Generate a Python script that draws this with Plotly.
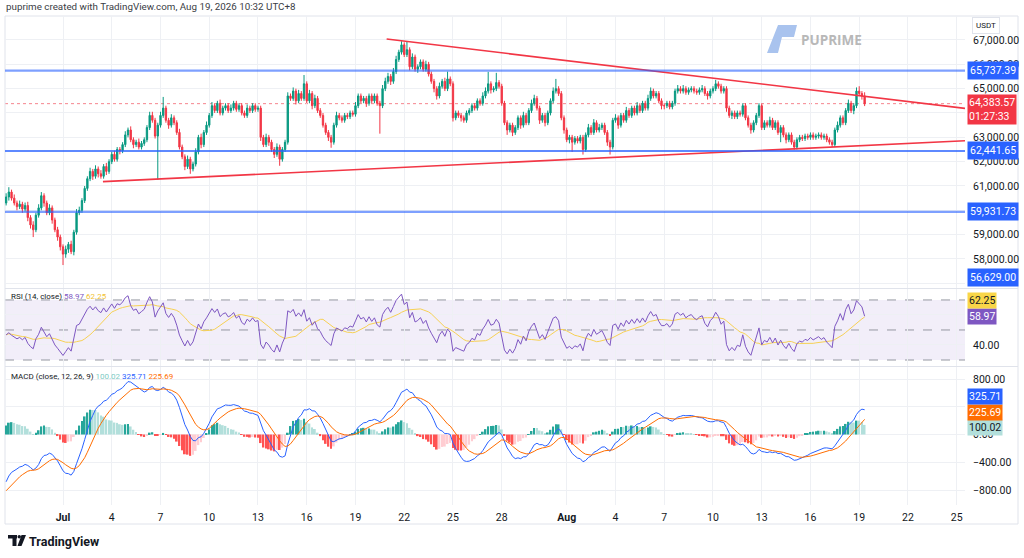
import numpy as np
import pandas as pd
import plotly.graph_objects as go

W, H = 1024, 558

# 4h candles, first one opens Jun 27 12:00 (UTC+8)
START = '2026-06-27 12:00'
FIRST_OPEN = 60300
CLOSES = [
    60550, 60750, 60500,                              # Jun 27
    60300, 60150, 60250, 60050, 60200, 59700,         # Jun 28
    59400, 59200, 59800, 60100, 60600, 60300,         # Jun 29
    59900, 60100, 59600, 59200, 58900, 58500,         # Jun 30
    58200, 58400, 58600, 58300, 59100, 59900,         # Jul 1
    60000, 60400, 60900, 61300, 61600, 61400,         # Jul 2
    61700, 61500, 61400, 61800, 61600, 62000,         # Jul 3
    62300, 62100, 62500, 62450, 62700, 63100,         # Jul 4
    63300, 62900, 62700, 62800, 62600, 62750,         # Jul 5
    62900, 63400, 63900, 63700, 63050, 63500,         # Jul 6
    63900, 64200, 63700, 63500, 63800, 63600,         # Jul 7
    63200, 62600, 62200, 61800, 62100, 61700,         # Jul 8
    61900, 62400, 63000, 62700, 63200, 63500,         # Jul 9
    63900, 64300, 64100, 64400, 64000, 64200,         # Jul 10
    64300, 64100, 64200, 64400, 64150, 64300,         # Jul 11
    64000, 63900, 64200, 64100, 64300, 64150,         # Jul 12
    64200, 63000, 62700, 63000, 62800, 62500,         # Jul 13
    62300, 62600, 62100, 62500, 62800, 64700,         # Jul 14
    64600, 64900, 64500, 64800, 64600, 65200,         # Jul 15
    64500, 64800, 64300, 64600, 64100, 63900,         # Jul 16
    63500, 63200, 63000, 62800, 63500, 63900,         # Jul 17
    63800, 63700, 63900, 63850, 64000, 63950,         # Jul 18
    64300, 64700, 64500, 64600, 64400, 64700,         # Jul 19
    64500, 64700, 64400, 64300, 65000, 65300,         # Jul 20
    65500, 65300, 65700, 66200, 66500, 66800,         # Jul 21
    66400, 66600, 65900, 66300, 65800, 65900,         # Jul 22
    66100, 65800, 66000, 65600, 65300, 65000,         # Jul 23
    64700, 65100, 65300, 65000, 65400, 65200,         # Jul 24
    63800, 64000, 63900, 63800, 63700, 64000,         # Jul 25
    64100, 64300, 64200, 64500, 64400, 64700,         # Jul 26
    64900, 65200, 64950, 65000, 65250, 65100,         # Jul 27
    64400, 63600, 63300, 63500, 63200, 63400,         # Jul 28
    63800, 63500, 63900, 63600, 64100, 64400,         # Jul 29
    64600, 64200, 63700, 63900, 63600, 64000,         # Jul 30
    64500, 64900, 65000, 64800, 63800, 63300,         # Jul 31
    62900, 63000, 62800, 62950, 62850, 63000,         # Aug 1
    62500, 63100, 63400, 63200, 63600, 63300,         # Aug 2
    63400, 63500, 63200, 62800, 62600, 63700,         # Aug 3
    63800, 63500, 63900, 63700, 64100, 63900,         # Aug 4
    64200, 64000, 64300, 64100, 64400, 64200,         # Aug 5
    64600, 64900, 64700, 64800, 64500, 64300,         # Aug 6
    64300, 64400, 64250, 64400, 64900, 65000,         # Aug 7
    64900, 65000, 64850, 64950, 65000, 64900,         # Aug 8
    64850, 64950, 65000, 64800, 64700, 64900,         # Aug 9
    65000, 65200, 65100, 64900, 65000, 64200,         # Aug 10
    63900, 64000, 63850, 64000, 63950, 64300,         # Aug 11
    63800, 63500, 63300, 63600, 63900, 64300,         # Aug 12
    63400, 63600, 63500, 63700, 63400, 63600,         # Aug 13
    63200, 63400, 63100, 62900, 63100, 62800,         # Aug 14
    62600, 62900, 63000, 62950, 63050, 63000,         # Aug 15
    63100, 63000, 63050, 63100, 63000, 63050,         # Aug 16
    62900, 62800, 62700, 63300, 63500, 63800,         # Aug 17
    63600, 64100, 64400, 64100, 64300, 64900,         # Aug 18
    64800, 64700, 64383.57,                           # Aug 19
]
# wick length above max(open, close) and below min(open, close)
UPPER_WICKS = [
    150, 200, 100,
    150, 100, 150, 100, 120, 150,
    100, 150, 100, 150, 150, 100,
    100, 150, 100, 100, 120, 100,
    100, 150, 100, 150, 100, 150,
    150, 100, 100, 100, 150, 100,
    150, 100, 150, 100, 150, 100,
    100, 150, 100, 100, 100, 150,
    100, 150, 100, 100, 150, 100,
    100, 100, 150, 150, 100, 100,
    150, 460, 100, 100, 150, 100,
    100, 150, 100, 100, 150, 100,
    100, 150, 100, 150, 100, 150,
    100, 150, 100, 100, 150, 100,
    100, 100, 150, 100, 100, 100,
    100, 100, 150, 100, 100, 100,
    100, 100, 100, 150, 100, 100,
    100, 150, 100, 100, 100, 150,
    100, 150, 100, 150, 100, 360,
    100, 150, 100, 150, 100, 100,
    100, 100, 100, 100, 100, 150,
    100, 100, 100, 100, 100, 100,
    150, 100, 100, 100, 100, 100,
    100, 100, 100, 100, 150, 150,
    150, 100, 150, 150, 100, 150,
    100, 320, 100, 150, 100, 100,
    100, 100, 150, 100, 100, 100,
    100, 150, 100, 150, 300, 100,
    100, 100, 100, 100, 100, 100,
    100, 100, 100, 100, 100, 150,
    150, 490, 100, 100, 400, 100,
    100, 100, 100, 100, 100, 100,
    100, 100, 150, 100, 100, 150,
    150, 100, 100, 100, 100, 100,
    100, 150, 400, 100, 100, 100,
    100, 100, 100, 100, 100, 100,
    100, 100, 150, 100, 150, 100,
    150, 100, 100, 100, 100, 100,
    150, 100, 100, 100, 150, 100,
    100, 100, 150, 100, 100, 100,
    150, 150, 100, 100, 100, 100,
    100, 100, 100, 100, 100, 150,
    100, 150, 100, 100, 100, 100,
    100, 100, 150, 100, 100, 100,
    100, 160, 100, 100, 100, 100,
    100, 100, 100, 100, 100, 100,
    100, 100, 100, 100, 100, 100,
    100, 100, 100, 150, 100, 100,
    100, 100, 100, 100, 100, 100,
    100, 100, 100, 100, 100, 100,
    100, 100, 100, 100, 100, 100,
    100, 100, 100, 100, 150, 100,
    100, 100, 150, 100, 100, 150,
    200, 100, 150,
]
LOWER_WICKS = [
    100, 150, 100,
    100, 150, 100, 150, 100, 150,
    150, 300, 100, 100, 100, 150,
    100, 100, 150, 100, 150, 150,
    450, 150, 150, 100, 150, 100,
    100, 100, 100, 100, 100, 150,
    100, 150, 100, 100, 150, 100,
    100, 100, 100, 150, 100, 100,
    100, 100, 150, 100, 100, 100,
    100, 100, 100, 100, 100, 1790,
    100, 100, 100, 150, 100, 100,
    100, 100, 100, 150, 100, 200,
    100, 100, 100, 150, 100, 100,
    100, 100, 100, 100, 100, 100,
    100, 100, 100, 100, 100, 100,
    100, 100, 100, 100, 100, 100,
    100, 150, 100, 100, 150, 100,
    150, 100, 270, 100, 100, 100,
    100, 100, 150, 100, 100, 100,
    100, 100, 150, 100, 100, 100,
    100, 100, 150, 230, 100, 100,
    100, 100, 100, 100, 100, 100,
    100, 100, 100, 100, 150, 100,
    100, 100, 100, 1150, 100, 100,
    100, 150, 100, 100, 100, 100,
    100, 100, 150, 100, 100, 150,
    100, 100, 100, 100, 100, 150,
    150, 100, 100, 100, 100, 100,
    150, 100, 100, 150, 100, 100,
    100, 100, 100, 100, 100, 100,
    100, 100, 150, 100, 100, 100,
    100, 100, 200, 100, 150, 100,
    100, 150, 100, 100, 100, 100,
    100, 100, 150, 100, 150, 100,
    100, 100, 100, 100, 100, 150,
    100, 150, 400, 100, 100, 100,
    210, 100, 100, 100, 100, 100,
    100, 100, 100, 150, 310, 100,
    100, 150, 100, 100, 100, 100,
    100, 100, 100, 100, 100, 100,
    100, 100, 100, 100, 100, 150,
    150, 100, 100, 100, 100, 100,
    100, 100, 100, 100, 100, 100,
    100, 100, 100, 100, 150, 100,
    100, 100, 100, 100, 100, 150,
    100, 150, 100, 100, 100, 100,
    100, 100, 150, 100, 100, 100,
    100, 100, 100, 100, 100, 100,
    100, 400, 100, 150, 100, 100,
    110, 100, 100, 100, 100, 100,
    100, 100, 100, 100, 100, 100,
    100, 100, 100, 100, 100, 100,
    100, 100, 100, 100, 150, 100,
    100, 150, 100,
]

# indicator states at the left edge of the picture (history before the window)
RSI_START = 45.0
MACD_START = -757.0
SIGNAL_START = -843.0

LEVELS = [65737.39, 62441.65, 59931.73, 56629.00]
DESC_TREND_TIMES = ['2026-07-20 22:00', '2026-08-25 12:15']
DESC_TREND_PRICES = [67040, 64190]
ASC_TREND_TIMES = ['2026-07-03 11:00', '2026-08-25 12:15']
ASC_TREND_PRICES = [61180, 62860]

LAST_PRICE = 64383.57
COUNTDOWN = '01:27:33'
RSI_LAST, RSI_MA_LAST = 58.97, 62.25
MACD_LAST, SIGNAL_LAST, HIST_LAST = 325.71, 225.69, 100.02

TICK_DATES = ['2026-07-01', '2026-07-04', '2026-07-07', '2026-07-10', '2026-07-13',
              '2026-07-16', '2026-07-19', '2026-07-22', '2026-07-25', '2026-07-28',
              '2026-08-01', '2026-08-04', '2026-08-07', '2026-08-10', '2026-08-13',
              '2026-08-16', '2026-08-19', '2026-08-22', '2026-08-25']
TICK_TEXT = ['<b>Jul</b>', '4', '7', '10', '13', '16', '19', '22', '25', '28',
             '<b>Aug</b>', '4', '7', '10', '13', '16', '19', '22', '25']
# gridline values; labels hidden under the price tags are left blank
PRICE_TICKS = [57000, 58000, 59000, 60000, 61000, 62000, 63000, 64000, 65000, 66000, 67000]
PRICE_TICK_TEXT = ['', '58,000.00', '59,000.00', '', '61,000.00', '62,000.00', '63,000.00',
                   '', '65,000.00', '66,000.00', '67,000.00']
RSI_TICKS = [40, 60]
RSI_TICK_TEXT = ['40.00', '']
MACD_TICKS = [-800, -400, 0, 400, 800]
MACD_TICK_TEXT = ['\u2212800.00', '\u2212400.00', '0.00', '', '800.00']

UP, DOWN = '#089981', '#f23645'
BLUE = '#2962ff'
GRID = '#eef0f4'
TEXT = '#131722'
FONT = 'Roboto'
AXIS_SIZE = 10.5
TAG_STEP = 15.5   # vertical pixels between stacked indicator tags

PRICE_PX = 1 / 41.1   # pixels per price unit
RSI_PX = 1.5          # pixels per RSI point
MACD_PX = 1 / 14.414  # pixels per MACD unit


def px_x(p):
    return p / W


def px_y(p):
    return 1 - p / H


def smooth(values, alpha, seed):
    out = []
    prev = seed
    for v in values:
        prev = prev + alpha * (v - prev)
        out.append(prev)
    return np.array(out)


# --- derived series -------------------------------------------------------
times = pd.date_range(START, periods=len(CLOSES), freq='4h')
close = np.array(CLOSES, dtype=float)
opens = np.array([FIRST_OPEN] + CLOSES[:-1], dtype=float)
highs = np.maximum(opens, close) + np.array(UPPER_WICKS)
lows = np.minimum(opens, close) - np.array(LOWER_WICKS)

delta = close - opens
avg_move = np.abs(delta).mean()
loss_seed = avg_move * 2 * (100 - RSI_START) / 100
gain_seed = avg_move * 2 * RSI_START / 100
gain = smooth(np.clip(delta, 0, None), 1 / 14, gain_seed)
loss = smooth(np.clip(-delta, 0, None), 1 / 14, loss_seed)
rsi = pd.Series(100 - 100 / (1 + gain / loss))
rsi_ma = rsi.rolling(14, min_periods=1).mean()

ema12 = smooth(close, 2 / 13, FIRST_OPEN)
ema26 = smooth(close, 2 / 27, FIRST_OPEN - MACD_START)
macd = ema12 - ema26
signal = smooth(macd, 2 / 10, SIGNAL_START)
hist = macd - signal
hist_colors = []
prev = hist[0]
for h in hist:
    if h >= 0:
        hist_colors.append('#26a69a' if h >= prev else '#b2dfdb')
    else:
        hist_colors.append('#ff5252' if h <= prev else '#ffcdd2')
    prev = h

# --- layout geometry (pixels of the 1024x558 page) -------------------------
X_DOMAIN = [px_x(5), px_x(965)]
X_RANGE = ['2026-06-27 10:20', '2026-08-25 12:15']
PRICE_DOMAIN = [px_y(288), px_y(16)]
RSI_DOMAIN = [px_y(366), px_y(289)]
MACD_DOMAIN = [px_y(505), px_y(367)]
PRICE_RANGE = [56807, 67986]
RSI_RANGE = [26, 77.3]
MACD_RANGE = [-1016, 973]

fig = go.Figure()
fig.add_trace(go.Candlestick(
    x=times, open=opens, high=highs, low=lows, close=close,
    increasing=dict(line=dict(color=UP, width=1), fillcolor=UP),
    decreasing=dict(line=dict(color=DOWN, width=1), fillcolor=DOWN),
    whiskerwidth=0, xaxis='x', yaxis='y', hoverinfo='skip', showlegend=False,
))
for tx, ty in [(DESC_TREND_TIMES, DESC_TREND_PRICES), (ASC_TREND_TIMES, ASC_TREND_PRICES)]:
    fig.add_trace(go.Scatter(x=tx, y=ty, mode='lines', line=dict(color=DOWN, width=1.6),
                             xaxis='x', yaxis='y', hoverinfo='skip', showlegend=False))

fig.add_trace(go.Scatter(x=times, y=rsi_ma, mode='lines', line=dict(color='#f7d154', width=1),
                         xaxis='x2', yaxis='y2', hoverinfo='skip', showlegend=False))
fig.add_trace(go.Scatter(x=times, y=rsi, mode='lines', line=dict(color='#7e57c2', width=1),
                         xaxis='x2', yaxis='y2', hoverinfo='skip', showlegend=False))

fig.add_trace(go.Bar(x=times, y=hist, marker=dict(color=hist_colors, line=dict(width=0)),
                     xaxis='x3', yaxis='y3', hoverinfo='skip', showlegend=False))
fig.add_trace(go.Scatter(x=times, y=macd, mode='lines', line=dict(color=BLUE, width=1),
                         xaxis='x3', yaxis='y3', hoverinfo='skip', showlegend=False))
fig.add_trace(go.Scatter(x=times, y=signal, mode='lines', line=dict(color='#ff6d00', width=1),
                         xaxis='x3', yaxis='y3', hoverinfo='skip', showlegend=False))

shapes = []
# horizontal support / resistance levels
for level in LEVELS:
    strong = level == LEVELS[1]
    shapes.append(dict(type='line', xref='x domain', yref='y', x0=0, x1=1, y0=level, y1=level,
                       line=dict(color=BLUE, width=1.5 if strong else 2.2),
                       opacity=1 if strong else 0.6, layer='above'))
shapes.append(dict(type='line', xref='x domain', yref='y', x0=0, x1=1, y0=LAST_PRICE, y1=LAST_PRICE,
                   line=dict(color=DOWN, width=1, dash='dot'), opacity=0.6, layer='below'))
# RSI band and guides
shapes.append(dict(type='rect', xref='x2 domain', yref='y2', x0=0, x1=1, y0=30, y1=70,
                   fillcolor='rgba(126,87,194,0.1)', line=dict(width=0), layer='below'))
for lvl in (70, 50, 30):
    shapes.append(dict(type='line', xref='x2 domain', yref='y2', x0=0, x1=1, y0=lvl, y1=lvl,
                       line=dict(color='#9598a1', width=1, dash='dash'), layer='below'))
shapes.append(dict(type='line', xref='x3 domain', yref='y3', x0=0, x1=1, y0=0, y1=0,
                   line=dict(color='#b2b5be', width=1, dash='dash'), layer='below'))
# frame and pane separators
frame = '#e0e3eb'
shapes.append(dict(type='rect', xref='paper', yref='paper', x0=px_x(5), x1=px_x(1018),
                   y0=px_y(524), y1=px_y(16), line=dict(color=frame, width=1), layer='below'))
for sep in (288.5, 366.5):
    shapes.append(dict(type='line', xref='paper', yref='paper', x0=px_x(5), x1=px_x(1018),
                       y0=px_y(sep), y1=px_y(sep), line=dict(color=frame, width=1), layer='below'))
# PU Prime logo mark
logo = [(778, 25), (797, 25), (794, 37), (782, 37), (778, 53), (767, 53)]
path = 'M ' + ' L '.join(f'{px_x(a):.5f},{px_y(b):.5f}' for a, b in logo) + ' Z'
shapes.append(dict(type='path', xref='paper', yref='paper', path=path,
                   fillcolor='#a9c3ee', line=dict(width=0), layer='above'))
# TradingView logo mark
shapes.append(dict(type='rect', xref='paper', yref='paper', x0=px_x(8), x1=px_x(17),
                   y0=px_y(538.5), y1=px_y(535), fillcolor=TEXT, line=dict(width=0)))
shapes.append(dict(type='rect', xref='paper', yref='paper', x0=px_x(12.5), x1=px_x(16.5),
                   y0=px_y(546), y1=px_y(535), fillcolor=TEXT, line=dict(width=0)))
shapes.append(dict(type='circle', xref='paper', yref='paper', x0=px_x(17.5), x1=px_x(21),
                   y0=px_y(538.5), y1=px_y(535), fillcolor=TEXT, line=dict(width=0)))
tv = [(21.5, 535), (26, 535), (21.5, 546), (17.5, 546)]
shapes.append(dict(type='path', xref='paper', yref='paper',
                   path='M ' + ' L '.join(f'{px_x(a):.5f},{px_y(b):.5f}' for a, b in tv) + ' Z',
                   fillcolor=TEXT, line=dict(width=0)))

annotations = []


def price_label(text, y, yref, bg, fg='white', pad=2):
    annotations.append(dict(text=text, xref='paper', x=px_x(967), xanchor='left',
                            yref=yref, y=y, yanchor='middle', showarrow=False,
                            font=dict(family=FONT, size=AXIS_SIZE, color=fg), bgcolor=bg,
                            borderpad=pad, align='left'))


for level in LEVELS:
    y = max(level, PRICE_RANGE[0] + 11 / PRICE_PX)
    price_label(f'{level:,.2f}', y, 'y', BLUE)
# two-line last price tag: the price line sits level with the price, countdown below
price_label(f'{LAST_PRICE:,.2f}<br>{COUNTDOWN}', LAST_PRICE - 6 / PRICE_PX, 'y', DOWN, pad=1)
# indicator tags: lowest one sits at its value, the others stack above it
price_label(f'{RSI_LAST:.2f}', RSI_LAST, 'y2', '#7e57c2', pad=1)
price_label(f'{RSI_MA_LAST:.2f}', RSI_LAST + TAG_STEP / RSI_PX, 'y2', '#f9d648', TEXT, pad=1)
price_label(f'{HIST_LAST:.2f}', HIST_LAST, 'y3', '#b2dfdb', TEXT, pad=1)
price_label(f'{SIGNAL_LAST:.2f}', HIST_LAST + TAG_STEP / MACD_PX, 'y3', '#ff6d00', pad=1)
price_label(f'{MACD_LAST:.2f}', HIST_LAST + 2 * TAG_STEP / MACD_PX, 'y3', BLUE, pad=1)

annotations += [
    dict(text='puprime created with TradingView.com, Aug 19, 2026 10:32 UTC+8',
         xref='paper', yref='paper', x=px_x(4), y=px_y(7), xanchor='left', yanchor='middle',
         showarrow=False, font=dict(family=FONT, size=9.8, color='#3a3d45')),
    dict(text='USDT', xref='paper', yref='paper', x=px_x(972), y=px_y(25), xanchor='left',
         yanchor='middle', showarrow=False, font=dict(family=FONT, size=8, color=TEXT),
         bordercolor='#e0e3eb', borderwidth=1, borderpad=3),
    dict(text='<b>PUPRIME</b>', xref='paper', yref='paper', x=px_x(799), y=px_y(40),
         xanchor='left', yanchor='middle', showarrow=False,
         font=dict(family='Open Sans', size=13.5, color='#b8b8b8')),
    dict(text=('RSI (14, close) <span style="color:#7e57c2">58.97</span> '
               '<span style="color:#f2c230">62.25</span>'),
         xref='paper', yref='paper', x=px_x(9), y=px_y(296), xanchor='left', yanchor='middle',
         showarrow=False, font=dict(family=FONT, size=8, color=TEXT)),
    dict(text=('MACD (close, 12, 26, 9) <span style="color:#80cbc4">100.02</span> '
               '<span style="color:#2962ff">325.71</span> '
               '<span style="color:#ff6d00">225.69</span>'),
         xref='paper', yref='paper', x=px_x(9), y=px_y(376), xanchor='left', yanchor='middle',
         showarrow=False, font=dict(family=FONT, size=8, color=TEXT)),
    dict(text='<b>TradingView</b>', xref='paper', yref='paper', x=px_x(27), y=px_y(541),
         xanchor='left', yanchor='middle', showarrow=False,
         font=dict(family=FONT, size=12.5, color=TEXT)),
]

common_x = dict(type='date', range=X_RANGE, domain=X_DOMAIN, showgrid=True, gridcolor=GRID,
                tickvals=TICK_DATES, ticktext=TICK_TEXT, zeroline=False, showline=False,
                fixedrange=True)
common_y = dict(side='right', showgrid=True, gridcolor=GRID, zeroline=False, showline=False,
                ticks='', tickfont=dict(family=FONT, size=AXIS_SIZE, color=TEXT),
                ticklabelstandoff=7, fixedrange=True)

fig.update_layout(
    width=W, height=H,
    margin=dict(l=0, r=0, t=0, b=0),
    paper_bgcolor='white', plot_bgcolor='white',
    showlegend=False, bargap=0.35,
    xaxis=dict(common_x, anchor='y', showticklabels=False, rangeslider=dict(visible=False)),
    xaxis2=dict(common_x, anchor='y2', showticklabels=False),
    xaxis3=dict(common_x, anchor='y3', ticks='', ticklabelstandoff=4,
                tickfont=dict(family=FONT, size=AXIS_SIZE, color=TEXT)),
    yaxis=dict(common_y, domain=PRICE_DOMAIN, range=PRICE_RANGE, anchor='x',
               tickvals=PRICE_TICKS, ticktext=PRICE_TICK_TEXT),
    yaxis2=dict(common_y, domain=RSI_DOMAIN, range=RSI_RANGE, anchor='x2',
                tickvals=RSI_TICKS, ticktext=RSI_TICK_TEXT),
    yaxis3=dict(common_y, domain=MACD_DOMAIN, range=MACD_RANGE, anchor='x3',
                tickvals=MACD_TICKS, ticktext=MACD_TICK_TEXT),
    shapes=shapes,
    annotations=annotations,
)

# the page body has a default 8px margin; drop it so the figure sits at the corner
fig.write_html('out.html', config={'displayModeBar': False},
               post_script="document.body.style.margin='0px';")
